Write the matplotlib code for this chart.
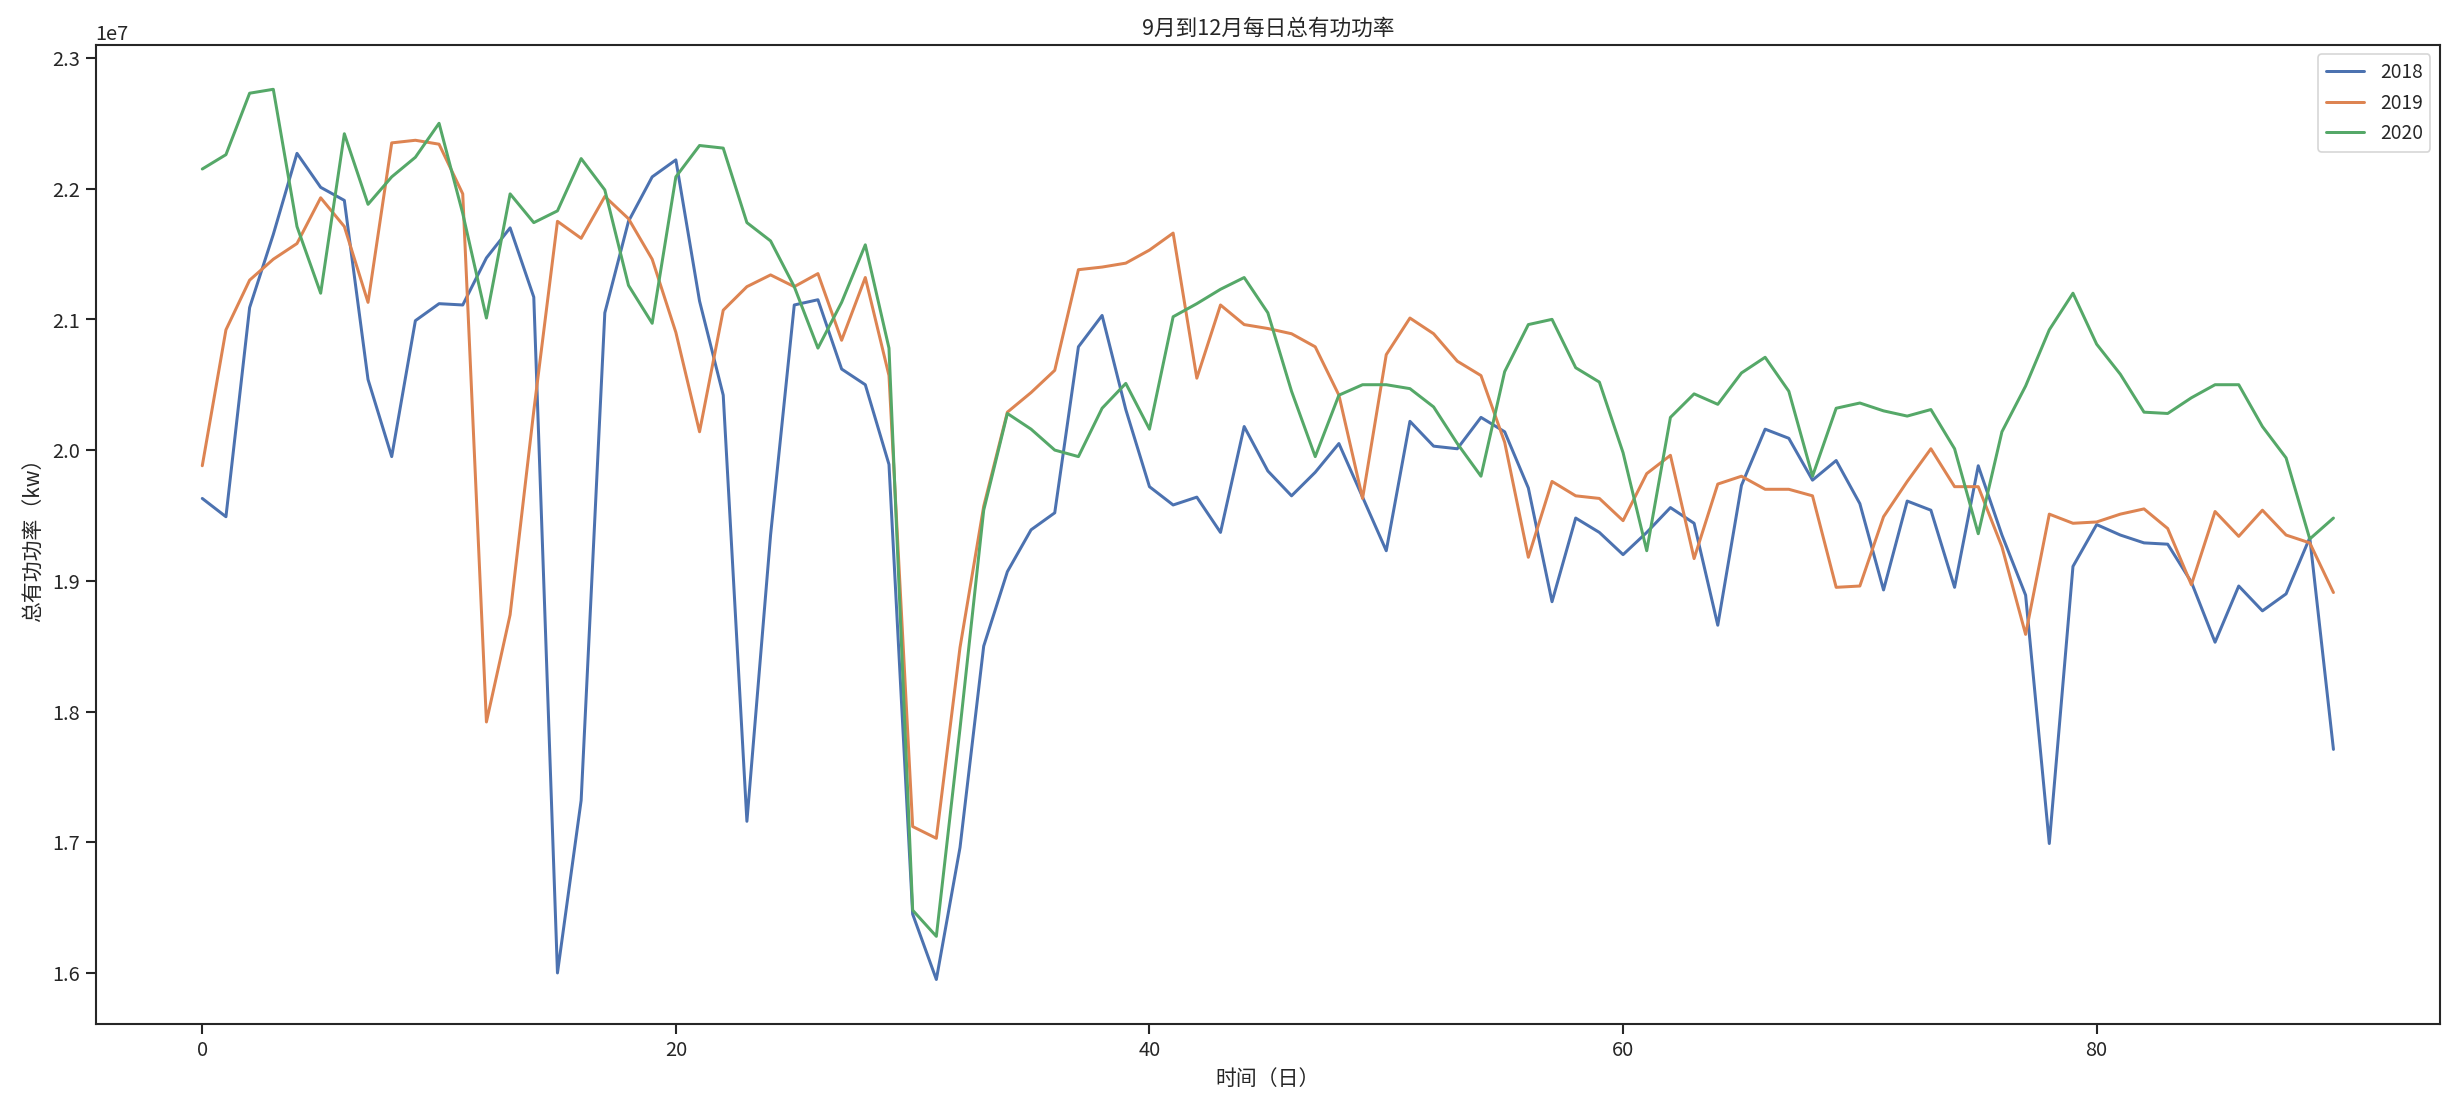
import numpy as np
import matplotlib
matplotlib.use('Agg')
import matplotlib.pyplot as plt
import seaborn as sns

# daily total active power, Sep-Dec, values read in units of 1e7 kw
days = list(range(91))
years = ['2018', '2019', '2020']

p2018 = [1.963, 1.949, 2.109, 2.165, 2.227, 2.201, 2.191, 2.054, 1.995, 2.099,
         2.112, 2.111, 2.147, 2.170, 2.117, 1.600, 1.732, 2.105, 2.175, 2.209,
         2.222, 2.114, 2.042, 1.716, 1.935, 2.111, 2.115, 2.062, 2.050, 1.989,
         1.645, 1.595, 1.696, 1.850, 1.907, 1.939, 1.952, 2.079, 2.103, 2.031,
         1.972, 1.958, 1.964, 1.937, 2.018, 1.984, 1.965, 1.983, 2.005, 1.964,
         1.923, 2.022, 2.003, 2.001, 2.025, 2.014, 1.971, 1.884, 1.948, 1.937,
         1.920, 1.937, 1.956, 1.944, 1.866, 1.973, 2.016, 2.009, 1.977, 1.992,
         1.959, 1.893, 1.961, 1.954, 1.895, 1.988, 1.935, 1.889, 1.699, 1.911,
         1.943, 1.935, 1.929, 1.928, 1.899, 1.853, 1.896, 1.877, 1.890, 1.933,
         1.771]

p2019 = [1.988, 2.092, 2.130, 2.146, 2.158, 2.193, 2.171, 2.113, 2.235, 2.237,
         2.234, 2.196, 1.792, 1.874, 2.030, 2.175, 2.162, 2.194, 2.177, 2.146,
         2.090, 2.014, 2.107, 2.125, 2.134, 2.125, 2.135, 2.084, 2.132, 2.057,
         1.712, 1.703, 1.849, 1.957, 2.029, 2.044, 2.061, 2.138, 2.140, 2.143,
         2.153, 2.166, 2.055, 2.111, 2.096, 2.093, 2.089, 2.079, 2.042, 1.963,
         2.073, 2.101, 2.089, 2.068, 2.057, 2.006, 1.918, 1.976, 1.965, 1.963,
         1.946, 1.982, 1.996, 1.917, 1.974, 1.980, 1.970, 1.970, 1.965, 1.895,
         1.896, 1.949, 1.976, 2.001, 1.972, 1.972, 1.926, 1.859, 1.951, 1.944,
         1.945, 1.951, 1.955, 1.940, 1.897, 1.953, 1.934, 1.954, 1.935, 1.929,
         1.891]

p2020 = [2.215, 2.226, 2.273, 2.276, 2.171, 2.120, 2.242, 2.188, 2.209, 2.224,
         2.250, 2.181, 2.101, 2.196, 2.174, 2.183, 2.223, 2.199, 2.126, 2.097,
         2.209, 2.233, 2.231, 2.174, 2.160, 2.125, 2.078, 2.113, 2.157, 2.078,
         1.648, 1.628, 1.787, 1.954, 2.028, 2.016, 2.000, 1.995, 2.032, 2.051,
         2.016, 2.102, 2.112, 2.123, 2.132, 2.105, 2.045, 1.995, 2.042, 2.050,
         2.050, 2.047, 2.033, 2.005, 1.980, 2.060, 2.096, 2.100, 2.063, 2.052,
         1.998, 1.923, 2.025, 2.043, 2.035, 2.059, 2.071, 2.045, 1.980, 2.032,
         2.036, 2.030, 2.026, 2.031, 2.001, 1.936, 2.014, 2.049, 2.092, 2.120,
         2.081, 2.058, 2.029, 2.028, 2.040, 2.050, 2.050, 2.018, 1.994, 1.932,
         1.948]

sns.set_theme(style='ticks')
plt.rcParams['font.family'] = ['Noto Sans CJK SC', 'DejaVu Sans']
plt.rcParams['axes.unicode_minus'] = False
plt.rcParams['xtick.labelsize'] = 12
plt.rcParams['ytick.labelsize'] = 12

fig, ax = plt.subplots(figsize=(20.45, 9.21), dpi=120)
fig.subplots_adjust(left=0.039, right=0.9943, top=0.9593, bottom=0.0733)

for name, vals in zip(years, [p2018, p2019, p2020]):
    ax.plot(days, np.array(vals) * 1e7, label=name, linewidth=1.8)

ax.set_title('9月到12月每日总有功功率', fontsize=13)
ax.set_xlabel('时间（日）', fontsize=12.5)
ax.set_ylabel('总有功功率（kw）', fontsize=12.5)
ax.yaxis.get_offset_text().set_fontsize(12)
ax.legend(loc='upper right', fontsize=11.5)

fig.savefig('out.png')
